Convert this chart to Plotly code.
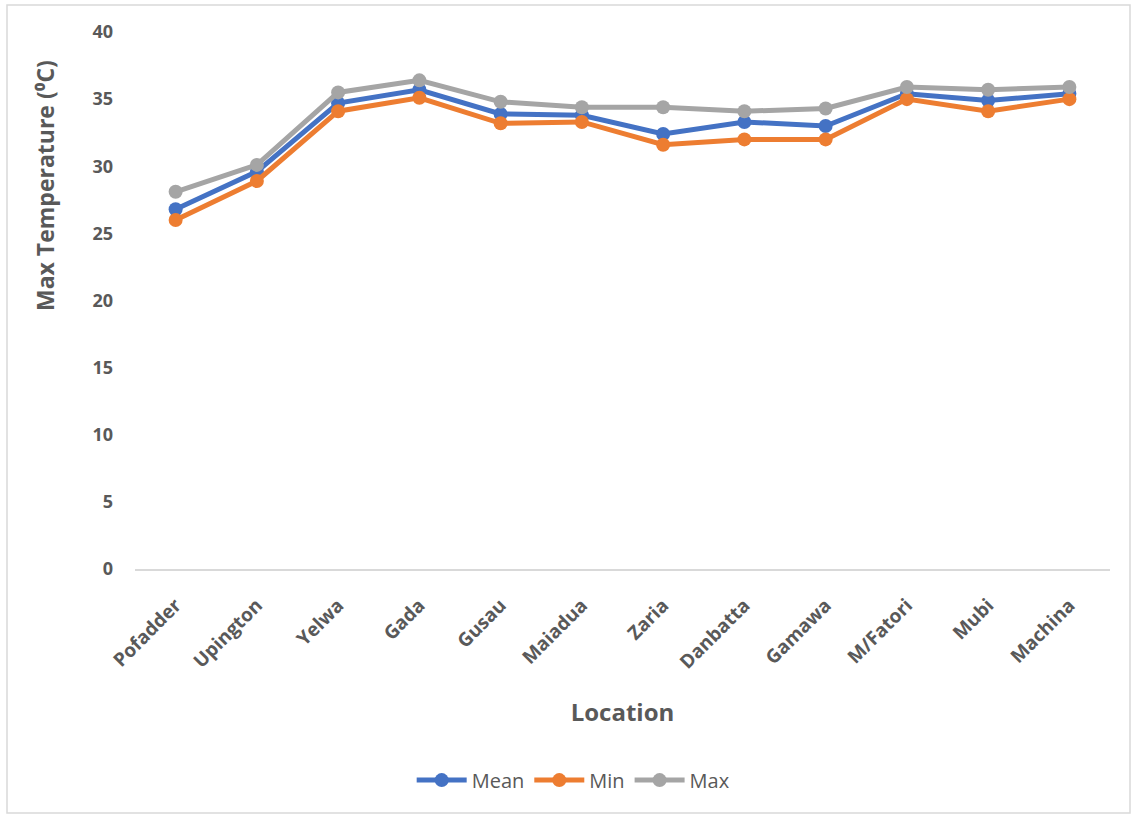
import plotly.graph_objects as go

locations = ["Pofadder", "Upington", "Yelwa", "Gada", "Gusau", "Maiadua", "Zaria",
             "Danbatta", "Gamawa", "M/Fatori", "Mubi", "Machina"]
mean_vals = [26.8, 29.6, 34.7, 35.7, 33.9, 33.8, 32.4, 33.3, 33.0, 35.4, 34.9, 35.4]
min_vals = [26.0, 28.9, 34.1, 35.1, 33.2, 33.3, 31.6, 32.0, 32.0, 35.0, 34.1, 35.0]
max_vals = [28.1, 30.1, 35.5, 36.4, 34.8, 34.4, 34.4, 34.1, 34.3, 35.9, 35.7, 35.9]
y_ticks = [0, 5, 10, 15, 20, 25, 30, 35, 40]

series = [("Mean", mean_vals, "#4472C4"), ("Min", min_vals, "#ED7D31"), ("Max", max_vals, "#A5A5A5")]

FONT = "Open Sans"
GRAY = "#595959"

fig = go.Figure()
for name, vals, col in series:
    fig.add_trace(go.Scatter(
        x=locations, y=vals, name=name, mode="lines+markers",
        line=dict(color=col, width=5),
        marker=dict(color=col, size=14),
    ))

fig.update_layout(
    width=1136, height=816,
    margin=dict(l=135, r=26, t=32, b=247),
    paper_bgcolor="white", plot_bgcolor="white",
    font=dict(family=FONT, color=GRAY),
    showlegend=True,
    legend=dict(orientation="h", xref="container", yref="container",
                x=0.505, y=0.044, xanchor="center", yanchor="middle",
                font=dict(size=20, color=GRAY, family=FONT),
                itemwidth=50, traceorder="normal"),
    xaxis=dict(
        type="category", range=[-0.5, 11.5], tickangle=-45,
        showgrid=False, showline=True, linecolor="#D9D9D9", linewidth=1.5,
        ticks="", tickfont=dict(size=19, color=GRAY, family=FONT, weight="bold"),
        ticklabelstandoff=16,
        title=dict(text="<b>Location</b>", font=dict(size=24, color=GRAY, family=FONT), standoff=31),
        zeroline=False,
    ),
    yaxis=dict(
        range=[0, 40], tickvals=y_ticks, showgrid=False, zeroline=False,
        showline=False, ticks="",
        tickfont=dict(size=18, color=GRAY, family=FONT, weight="bold"),
        ticklabelstandoff=21,
    ),
    annotations=[dict(text="<b>Max Temperature (⁰C)</b>", textangle=-90,
                      xref="paper", yref="paper",
                      x=(45 - 135) / 975, y=(569 - 186) / 537,
                      xanchor="center", yanchor="middle", showarrow=False,
                      font=dict(size=23, color=GRAY, family=FONT))],
    shapes=[dict(type="rect", xref="paper", yref="paper",
                 x0=(7 - 135) / 975, x1=(1130 - 135) / 975,
                 y0=(569 - 813) / 537, y1=(569 - 5) / 537,
                 line=dict(color="#D9D9D9", width=1.5), layer="below")],
)

fig.write_html("out.html")
